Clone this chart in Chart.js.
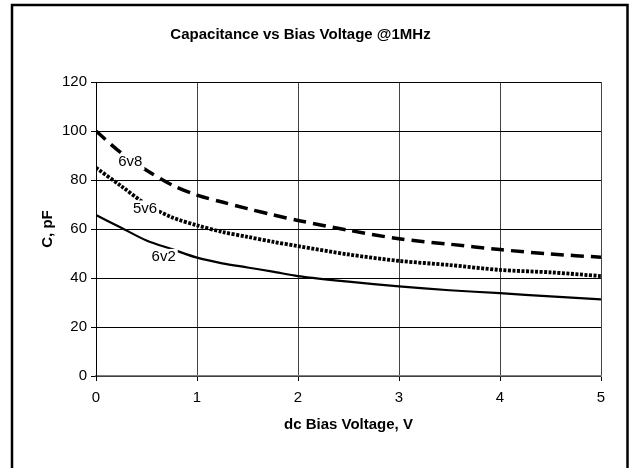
<!DOCTYPE html>
<html>
<head>
<meta charset="utf-8">
<script src="https://cdn.jsdelivr.net/npm/chart.js@4/dist/chart.umd.min.js"></script>
<style>
  html, body { margin: 0; padding: 0; background: #fff; }
  #wrap { width: 631px; height: 468px; }
</style>
</head>
<body>
<div id="wrap"><canvas id="capChart" width="631" height="468"></canvas></div>
<script>
const voltage = [0, 0.25, 0.5, 0.75, 1, 1.25, 1.5, 1.75, 2, 2.5, 3, 3.5, 4, 4.5, 5];
const cap6v8 = [100, 91, 84, 78, 73.8, 71, 68.3, 65.8, 63.5, 59.5, 56, 53.8, 51.6, 49.8, 48.5];
const cap5v6 = [85, 77.5, 70, 64.8, 61.5, 58.8, 56.8, 54.8, 53, 49.6, 47, 45.3, 43.3, 42.3, 40.8];
const cap6v2 = [65.7, 60.5, 55.3, 51.8, 48.3, 46, 44.3, 42.6, 40.8, 38.5, 36.6, 35, 33.8, 32.5, 31.3];
const seriesNames = ['6v8', '5v6', '6v2'];
// where each curve name sits, in data units
const labelX = [0.34, 0.485, 0.67];
const labelY = [87.3, 68.4, 48.6];

const pts = (ys) => voltage.map((v, i) => ({ x: v, y: ys[i] }));

const frame = {
    id: 'frame',
    beforeDraw(chart) {
        const c = chart.ctx;
        c.save();
        c.fillStyle = '#fff';
        c.fillRect(0, 0, chart.width, chart.height);
        c.strokeStyle = '#000';
        c.lineWidth = 2.5;
        c.strokeRect(12, 5, 615.5, 480);
        c.restore();
    }
};

const curveLabels = {
    id: 'curveLabels',
    afterDatasetsDraw(chart) {
        const c = chart.ctx;
        const xs = chart.scales.x, ys = chart.scales.y;
        c.save();
        c.font = '15px "Liberation Sans", Arial, sans-serif';
        c.textAlign = 'center';
        c.textBaseline = 'middle';
        seriesNames.forEach((name, i) => {
            const px = xs.getPixelForValue(labelX[i]);
            const py = ys.getPixelForValue(labelY[i]);
            const w = c.measureText(name).width + 4;
            c.fillStyle = '#fff';
            c.fillRect(px - w / 2, py - 8, w, 16);
            c.fillStyle = '#000';
            c.fillText(name, px, py);
        });
        c.restore();
    }
};

const capCtx = document.getElementById('capChart').getContext('2d');

const capChart = new Chart(capCtx, {
    type: 'line',
    data: {
        datasets: [{
            label: '6v8',
            data: pts(cap6v8),
            borderColor: '#000',
            borderWidth: 3.5,
            borderDash: [13, 7],
            pointRadius: 0,
            tension: 0.3
        }, {
            label: '5v6',
            data: pts(cap5v6),
            borderColor: '#000',
            borderWidth: 3.8,
            borderDash: [3, 1.5],
            pointRadius: 0,
            tension: 0.3
        }, {
            label: '6v2',
            data: pts(cap6v2),
            borderColor: '#000',
            borderWidth: 2.2,
            pointRadius: 0,
            tension: 0.3
        }]
    },
    options: {
        responsive: false,
        animation: false,
        layout: { padding: { left: 0, right: 30, top: 0, bottom: 0 } },
        plugins: {
            legend: { display: false },
            tooltip: { enabled: false },
            title: {
                display: true,
                text: 'Capacitance vs Bias Voltage @1MHz',
                color: '#000',
                font: { family: '"Liberation Sans", Arial, sans-serif', size: 15, weight: 'bold' },
                padding: { top: 26, bottom: 38 }
            }
        },
        scales: {
            x: {
                type: 'linear',
                min: 0,
                max: 5,
                ticks: {
                    stepSize: 1,
                    color: '#000',
                    padding: 8,
                    maxRotation: 0,
                    font: { family: '"Liberation Sans", Arial, sans-serif', size: 15 }
                },
                grid: { color: '#444', lineWidth: 1, tickLength: 5, tickColor: '#000' },
                border: { color: '#808080', width: 1.5 },
                title: {
                    display: true,
                    text: 'dc Bias Voltage, V',
                    color: '#000',
                    font: { family: '"Liberation Sans", Arial, sans-serif', size: 15, weight: 'bold' },
                    padding: { top: 14, bottom: 34 }
                },
                afterFit: (s) => { s.height = 92; }
            },
            y: {
                min: 0,
                max: 120,
                ticks: {
                    stepSize: 20,
                    color: '#000',
                    padding: 4,
                    font: { family: '"Liberation Sans", Arial, sans-serif', size: 15 }
                },
                grid: { color: '#000', lineWidth: 1, tickLength: 5, tickColor: '#000' },
                border: { color: '#000', width: 1 },
                title: {
                    display: true,
                    text: 'C, pF',
                    color: '#000',
                    font: { family: '"Liberation Sans", Arial, sans-serif', size: 15, weight: 'bold' },
                    padding: { top: 39, bottom: 4 }
                },
                afterFit: (s) => { s.width = 96; }
            }
        }
    },
    plugins: [frame, curveLabels]
});
</script>
</body>
</html>
